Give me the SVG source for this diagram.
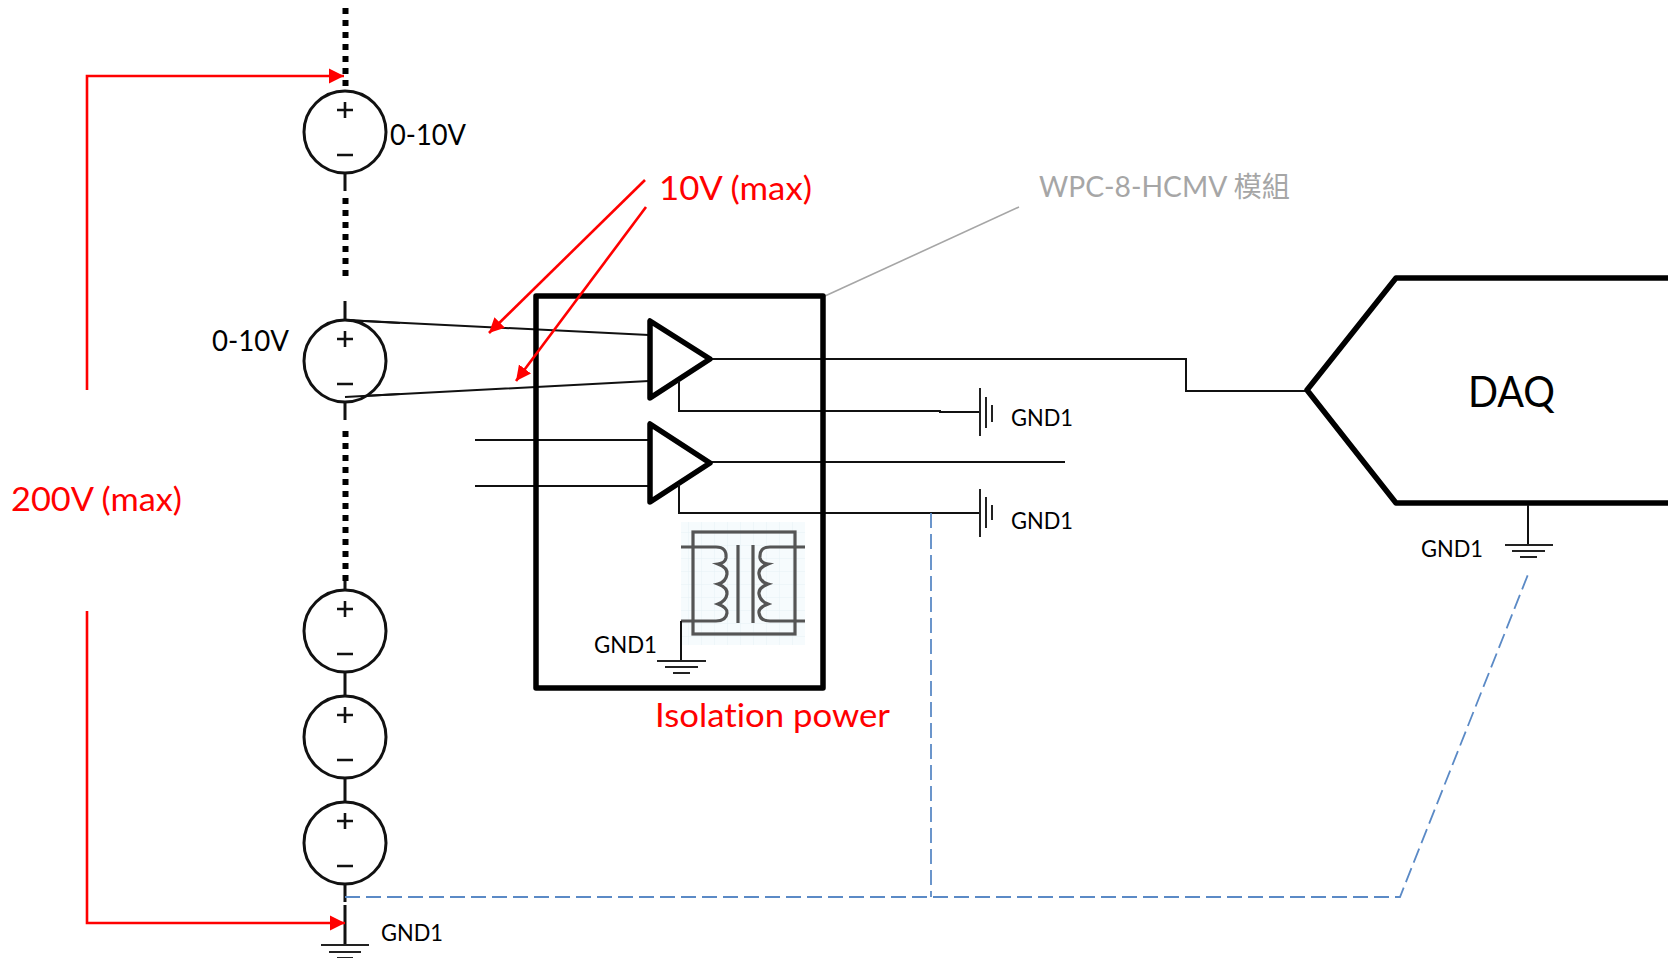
<svg xmlns="http://www.w3.org/2000/svg" width="1668" height="958" viewBox="0 0 1668 958">
<style>
text{font-family:Lato,"Noto Sans CJK TC",sans-serif;fill:#000;font-variant-ligatures:none}
.w{fill:none;stroke:#111;stroke-width:2}
.src{fill:#fff;stroke:#111;stroke-width:3}
.sign{fill:none;stroke:#111;stroke-width:2.6}
.stub{fill:none;stroke:#111;stroke-width:3}
.dot{fill:none;stroke:#000;stroke-width:6;stroke-dasharray:6 6}
.red{fill:none;stroke:#f00;stroke-width:2.6}
.blue{fill:none;stroke:#5b8ac6;stroke-width:1.8;stroke-dasharray:15 6}
.gnd{fill:none;stroke:#222;stroke-width:2}
.thick{fill:none;stroke:#000;stroke-width:5.5;stroke-linejoin:round}
.amp{fill:#fff;stroke:#000;stroke-width:5.5;stroke-linejoin:round}
.tx{fill:none;stroke:#555;stroke-width:3.2}
.g1{font-size:23px}
.v{font-size:29px}
.r{font-size:33px;fill:#f00}
</style>
<defs>
<marker id="ah" markerUnits="userSpaceOnUse" markerWidth="16" markerHeight="16" refX="15" refY="8" orient="auto"><path d="M0 0.5L15 8L0 15.5Z" fill="#f00"/></marker>
<pattern id="grid" width="13" height="13" patternUnits="userSpaceOnUse"><rect width="13" height="13" fill="#f6fbfd"/><path d="M13 0V13M0 13H13" stroke="#e6f1f6" stroke-width="1" fill="none"/></pattern>
<g id="srcsym"><circle class="src" r="41"/><path class="sign" d="M-8 -22H8M0 -30V-14M-8 23H8"/></g>
</defs>
<rect width="1668" height="958" fill="#fff"/>

<g id="connectors">
<path class="dot" d="M345.5 8V90"/>
<path class="stub" d="M345 173V191M345 301V320M345 402V420M345 580V590M345 672V696M345 778V801M345 884V902M345 905V945"/>
<path class="dot" d="M345.5 198V278M345.5 431V581"/>
<path class="w" d="M345 320L649 335M345 397L649 381M475 440H649M475 486H649"/>
<path class="w" d="M710 359H1186V391H1307M710 462H1065"/>
<path class="w" d="M679 380V411H940V412H980M679 483V513H980"/>
<path class="blue" d="M345 897H1400L1529 572M931 513V897"/>
<path d="M1019 207L825 296" fill="none" stroke="#a6a6a6" stroke-width="1.6"/>
</g>

<g id="source-1"><use href="#srcsym" x="345" y="132"/></g>
<g id="source-2"><use href="#srcsym" x="345" y="361"/></g>
<g id="source-3"><use href="#srcsym" x="345" y="631"/></g>
<g id="source-4"><use href="#srcsym" x="345" y="737"/></g>
<g id="source-5"><use href="#srcsym" x="345" y="843"/></g>
<path class="w" d="M345 320L400 323M345 397L400 394"/>

<g id="module"><rect class="thick" x="536" y="296" width="287" height="392"/></g>
<g id="amp-1"><path class="amp" d="M650 321V398L710 359Z"/></g>
<g id="amp-2"><path class="amp" d="M650 424V502L710 463Z"/></g>
<path class="w" d="M679 381V395M679 484V498"/>

<g id="transformer">
<rect x="681" y="522" width="124" height="123" fill="url(#grid)"/>
<rect class="tx" x="693" y="532" width="102" height="102"/>
<path id="coil" class="tx" d="M681 547H716Q727 547 726 558Q725 563 718 564Q728 568 727 574Q726 582 718 584Q728 588 727 594Q726 601 718 604Q728 608 727 613Q726 621 716 621H681"/>
<use href="#coil" transform="matrix(-1 0 0 1 1486 0)"/>
<path class="tx" d="M738 545V623M753 545V623"/>
<path class="w" d="M681 621V661"/>
</g>

<g id="gnd-module"><path class="gnd" d="M657 661H706M665 667H698M673 673H690"/><text class="g1" x="594" y="653" textLength="63" lengthAdjust="spacingAndGlyphs">GND1</text></g>
<g id="gnd-a1"><path class="gnd" d="M980 388V436M986 397V428M992 405V422"/><text class="g1" x="1011" y="426" textLength="62" lengthAdjust="spacingAndGlyphs">GND1</text></g>
<g id="gnd-a2"><path class="gnd" d="M980 489V537M986 497V528M992 505V520"/><text class="g1" x="1011" y="529" textLength="62" lengthAdjust="spacingAndGlyphs">GND1</text></g>
<g id="gnd-source"><path class="gnd" d="M321 945H369M329 952H361M337 958H353"/><text class="g1" x="381" y="941" textLength="62" lengthAdjust="spacingAndGlyphs">GND1</text></g>

<g id="daq">
<path class="thick" d="M1680 278H1396L1307 390L1396 503H1680"/>
<path class="w" d="M1528 505V545"/>
<path class="gnd" d="M1505 545H1553M1512 551H1545M1520 557H1537"/>
<text x="1468" y="407" font-size="42" textLength="87" lengthAdjust="spacingAndGlyphs">DAQ</text>
<text class="g1" x="1421" y="557" textLength="62" lengthAdjust="spacingAndGlyphs">GND1</text>
</g>

<g id="labels">
<text class="v" x="390" y="145" textLength="76" lengthAdjust="spacingAndGlyphs">0-10V</text>
<text class="v" x="212" y="351" textLength="77" lengthAdjust="spacingAndGlyphs">0-10V</text>
<text class="r" x="659" y="200" textLength="153" lengthAdjust="spacingAndGlyphs">10V (max)</text>
<text class="r" x="11" y="511" textLength="171" lengthAdjust="spacingAndGlyphs">200V (max)</text>
<text class="r" x="655" y="727" textLength="235" lengthAdjust="spacingAndGlyphs">Isolation power</text>
<text x="1039" y="197" font-size="28" style="fill:#a6a6a6" textLength="251" lengthAdjust="spacingAndGlyphs">WPC-8-HCMV 模組</text>
</g>

<g id="annotations">
<path class="red" marker-end="url(#ah)" d="M87 390V76H344"/>
<path class="red" marker-end="url(#ah)" d="M87 611V923H345"/>
<path class="red" marker-end="url(#ah)" d="M645 180L489 333"/>
<path class="red" marker-end="url(#ah)" d="M646 207L516 381"/>
</g>
</svg>
